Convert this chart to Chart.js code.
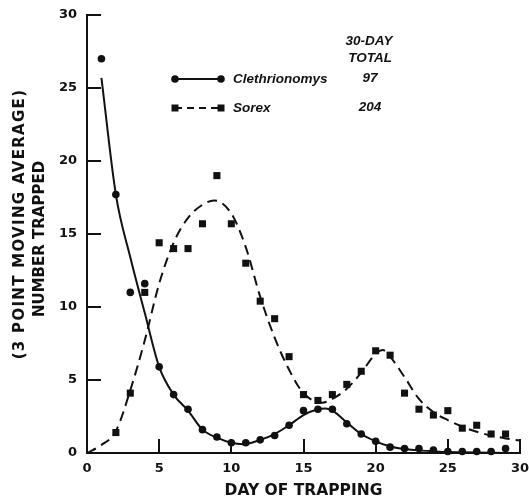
<!DOCTYPE html>
<html>
<head>
<meta charset="utf-8">
<script src="https://cdn.jsdelivr.net/npm/chart.js@4.4.1/dist/chart.umd.min.js"></script>
<style>
  html, body { margin: 0; padding: 0; background: #fff; }
  canvas { display: block; }
</style>
</head>
<body>
<canvas id="trapChart" width="529" height="501"></canvas>
<script>
// 3-point moving averages of daily catches
const days = [1, 2, 3, 4, 5, 6, 7, 8, 9, 10, 11, 12, 13, 14, 15, 16, 17, 18, 19, 20, 21, 22, 23, 24, 25, 26, 27, 28, 29];
const clethrionomysCounts = [27.0, 17.7, 11.0, 11.6, 5.9, 4.0, 3.0, 1.6, 1.1, 0.7, 0.7, 0.9, 1.2, 1.9, 2.9, 3.0, 3.0, 2.0, 1.3, 0.8, 0.4, 0.3, 0.3, 0.2, 0.1, 0.1, 0.1, 0.1, 0.3];
const sorexCounts = [1.4, 4.1, 11.0, 14.4, 14.0, 14.0, 15.7, 19.0, 15.7, 13.0, 10.4, 9.2, 6.6, 4.0, 3.6, 4.0, 4.7, 5.6, 7.0, 6.7, 4.1, 3.0, 2.6, 2.9, 1.7, 1.9, 1.3, 1.3];
const sorexDays = days.slice(1);

// hand-fitted trend curves
const clethCurveDays = [1, 2, 3, 4, 5, 6, 7, 8, 9, 10, 10.8, 12, 13, 14, 15, 16, 16.5, 17, 18, 19, 20, 21, 22, 23, 24, 25, 26, 28, 30];
const clethCurveValues = [25.7, 17.7, 13.4, 9.6, 5.9, 4.0, 2.9, 1.6, 1.05, 0.7, 0.6, 0.9, 1.3, 1.9, 2.6, 3.0, 3.05, 2.9, 2.1, 1.3, 0.8, 0.45, 0.28, 0.18, 0.12, 0.07, 0.05, 0.02, 0];
const sorexCurveDays = [0, 1, 2, 3, 4, 5, 6, 7, 8, 8.8, 10, 11, 12, 13, 14, 15, 16.3, 17, 18, 19, 20, 20.5, 21, 22, 23, 24, 25, 26, 27, 28, 29, 30];
const sorexCurveValues = [0, 0.55, 1.5, 4.3, 7.7, 11.6, 14.4, 16.1, 17.0, 17.3, 16.4, 14.1, 10.7, 7.9, 5.7, 4.1, 3.45, 3.7, 4.4, 5.5, 6.8, 7.05, 6.6, 5.2, 3.7, 2.8, 2.25, 1.8, 1.45, 1.2, 1.0, 0.85];

const xTicks = [0, 5, 10, 15, 20, 25, 30];
const yTicks = [0, 5, 10, 15, 20, 25, 30];

const speciesNames = ['Clethrionomys', 'Sorex'];
const speciesTotals = ['97', '204'];
const totalHeader = ['30-DAY', 'TOTAL'];
const yTitleLines = ['(3 POINT MOVING AVERAGE)', 'NUMBER TRAPPED'];

const ink = '#111';
const axisFont = '"DejaVu Sans", sans-serif';
const keyFont = '"Liberation Sans", Arial, sans-serif';

const pairs = (xs, ys) => xs.map((x, i) => ({ x, y: ys[i] }));

// inward tick marks, y title and the key
const decorations = {
    id: 'decorations',
    afterDraw(chart) {
        const { ctx, chartArea } = chart;
        const xs = chart.scales.x;
        const ys = chart.scales.y;
        ctx.save();
        ctx.strokeStyle = ink;
        ctx.fillStyle = ink;
        ctx.lineWidth = 2;

        yTicks.slice(1).forEach(v => {
            const py = Math.round(ys.getPixelForValue(v));
            ctx.beginPath();
            ctx.moveTo(chartArea.left, py);
            ctx.lineTo(chartArea.left + 14, py);
            ctx.stroke();
        });
        xTicks.slice(1).forEach(v => {
            const px = Math.round(xs.getPixelForValue(v));
            ctx.beginPath();
            ctx.moveTo(px, chartArea.bottom);
            ctx.lineTo(px, chartArea.bottom - 14);
            ctx.stroke();
        });

        // rotated y title, two lines
        ctx.textAlign = 'center';
        ctx.textBaseline = 'middle';
        ctx.save();
        ctx.translate(20, 224);
        ctx.rotate(-Math.PI / 2);
        ctx.font = 'bold 15px ' + axisFont;
        ctx.letterSpacing = '1.3px';
        ctx.fillText(yTitleLines[0], 0, 0);
        ctx.restore();
        ctx.save();
        ctx.translate(40, 239);
        ctx.rotate(-Math.PI / 2);
        ctx.font = 'bold 15px ' + axisFont;
        ctx.fillText(yTitleLines[1], 0, 0);
        ctx.restore();

        // key
        ctx.font = 'italic bold 13.5px ' + keyFont;
        ctx.fillText(totalHeader[0], 369, 41);
        ctx.fillText(totalHeader[1], 370, 58);

        const rows = [79, 108];
        rows.forEach((ry, i) => {
            ctx.lineWidth = 2;
            ctx.setLineDash(i === 0 ? [] : [7, 5]);
            ctx.beginPath();
            ctx.moveTo(175, ry);
            ctx.lineTo(221, ry);
            ctx.stroke();
            ctx.setLineDash([]);
            [175, 221].forEach(mx => {
                if (i === 0) {
                    ctx.beginPath();
                    ctx.arc(mx, ry, 3.8, 0, Math.PI * 2);
                    ctx.fill();
                } else {
                    ctx.fillRect(mx - 3.5, ry - 3.5, 7, 7);
                }
            });
            ctx.textAlign = 'left';
            ctx.fillText(speciesNames[i], 233, ry);
            ctx.textAlign = 'center';
            ctx.fillText(speciesTotals[i], 370, ry - 1);
        });
        ctx.restore();
    }
};

new Chart(document.getElementById('trapChart'), {
    type: 'line',
    data: {
        datasets: [
            {
                data: pairs(clethCurveDays, clethCurveValues),
                borderColor: ink,
                borderWidth: 2,
                pointRadius: 0,
                cubicInterpolationMode: 'monotone',
                fill: false,
                clip: false
            },
            {
                data: pairs(sorexCurveDays, sorexCurveValues),
                borderColor: ink,
                borderWidth: 2,
                borderDash: [10, 6],
                pointRadius: 0,
                cubicInterpolationMode: 'monotone',
                fill: false,
                clip: false
            },
            {
                data: pairs(days, clethrionomysCounts),
                showLine: false,
                pointStyle: 'circle',
                pointRadius: 3.8,
                backgroundColor: ink,
                borderWidth: 0,
                clip: false
            },
            {
                data: pairs(sorexDays, sorexCounts),
                showLine: false,
                pointStyle: 'rect',
                pointRadius: 5,
                backgroundColor: ink,
                borderWidth: 0,
                clip: false
            }
        ]
    },
    options: {
        responsive: false,
        devicePixelRatio: 1,
        animation: false,
        events: [],
        layout: { padding: { top: 15, right: 9, left: 0, bottom: 0 } },
        plugins: { legend: { display: false }, tooltip: { enabled: false } },
        scales: {
            x: {
                type: 'linear',
                min: 0,
                max: 30,
                afterFit: s => { s.height = 48; s.paddingLeft = 0; s.paddingRight = 0; },
                afterBuildTicks: s => { s.ticks = xTicks.map(value => ({ value })); },
                ticks: { color: ink, padding: 8, font: { family: axisFont, size: 13, weight: 'bold' } },
                grid: { display: false, drawTicks: false },
                border: { display: true, color: ink, width: 2 },
                title: {
                    display: true,
                    text: 'DAY OF TRAPPING',
                    color: ink,
                    font: { family: axisFont, size: 15.5, weight: 'bold' },
                    padding: { top: 0, bottom: 1 }
                }
            },
            y: {
                type: 'linear',
                min: 0,
                max: 30,
                afterFit: s => { s.width = 87; s.paddingTop = 0; s.paddingBottom = 0; },
                afterBuildTicks: s => { s.ticks = yTicks.map(value => ({ value })); },
                ticks: { color: ink, padding: 10, font: { family: axisFont, size: 13, weight: 'bold' } },
                grid: { display: false, drawTicks: false },
                border: { display: true, color: ink, width: 2 }
            }
        }
    },
    plugins: [decorations]
});
</script>
</body>
</html>
